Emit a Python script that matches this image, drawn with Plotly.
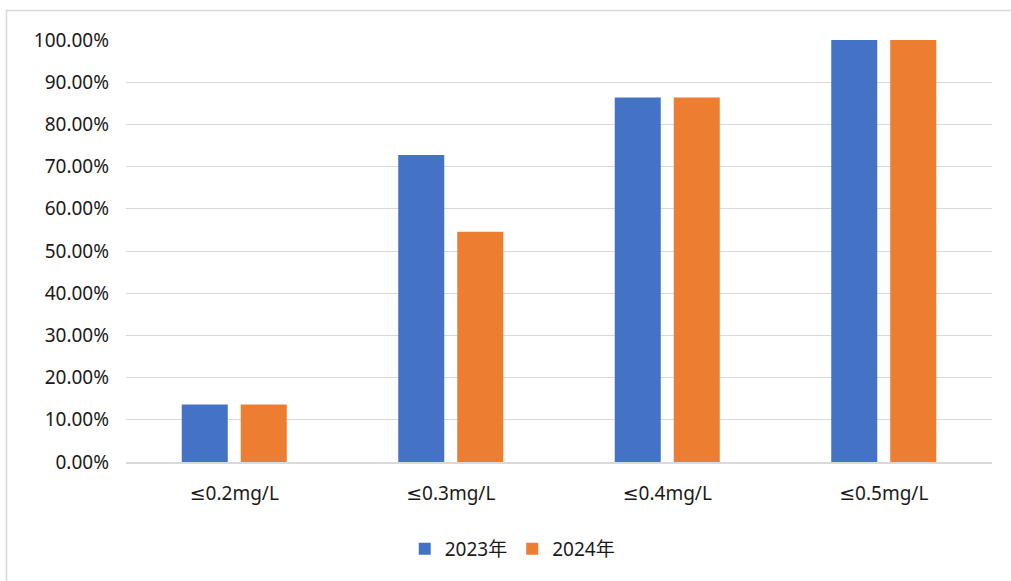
import plotly.graph_objects as go

categories = ["≤0.2mg/L", "≤0.3mg/L", "≤0.4mg/L", "≤0.5mg/L"]
series_names = ["2023年", "2024年"]
values_2023 = [0.1364, 0.7273, 0.8636, 1.0]
values_2024 = [0.1364, 0.5455, 0.8636, 1.0]
colors = ["#4472C4", "#ED7D31"]
y_ticks = [i / 10 for i in range(11)]

font_family = "Noto Sans, DejaVu Sans, Noto Sans CJK SC, sans-serif"

fig = go.Figure()
for name, vals, col in zip(series_names, [values_2023, values_2024], colors):
    fig.add_trace(go.Bar(x=categories, y=vals, name=name, marker=dict(color=col, line=dict(width=0)),
                         hoverinfo="x+y+name"))

W, H = 1011, 581
L, R, T, B = 126, 19, 40, 119
pw, ph = W - L - R, H - T - B

def px_x(p):
    return (p - L) / pw

def px_y(p):
    return (H - B - p) / ph

fig.update_layout(
    width=W, height=H,
    margin=dict(l=L, r=R, t=T, b=B, autoexpand=False),
    paper_bgcolor="white", plot_bgcolor="white",
    barmode="group", bargap=0.455, bargroupgap=0.22,
    font=dict(family=font_family, size=19, color="#1a1a1a"),
    showlegend=True,
    legend=dict(orientation="h", x=0.446, y=px_y(549), xanchor="center", yanchor="middle",
                font=dict(size=19, color="#1a1a1a"), itemwidth=30, traceorder="normal"),
    xaxis=dict(showgrid=False, showline=True, linecolor="#D9D9D9", linewidth=1.5,
               ticks="", tickfont=dict(size=19), ticklabelstandoff=13),
    yaxis=dict(range=[0, 1.0], tickvals=y_ticks, tickformat=".2%", showgrid=True,
               gridcolor="#D9D9D9", gridwidth=1.4, zeroline=False, showline=False,
               ticks="", tickfont=dict(size=19), ticklabelstandoff=16),
    shapes=[dict(type="rect", xref="paper", yref="paper", x0=px_x(6.5), x1=px_x(1020),
                 y0=px_y(590), y1=px_y(10.5), line=dict(color="#D9D9D9", width=1.5),
                 fillcolor="rgba(0,0,0,0)", layer="below")],
)

fig.write_html("out.html", config={"displayModeBar": False},
               post_script="document.body.style.margin='0';document.body.style.padding='0';")
